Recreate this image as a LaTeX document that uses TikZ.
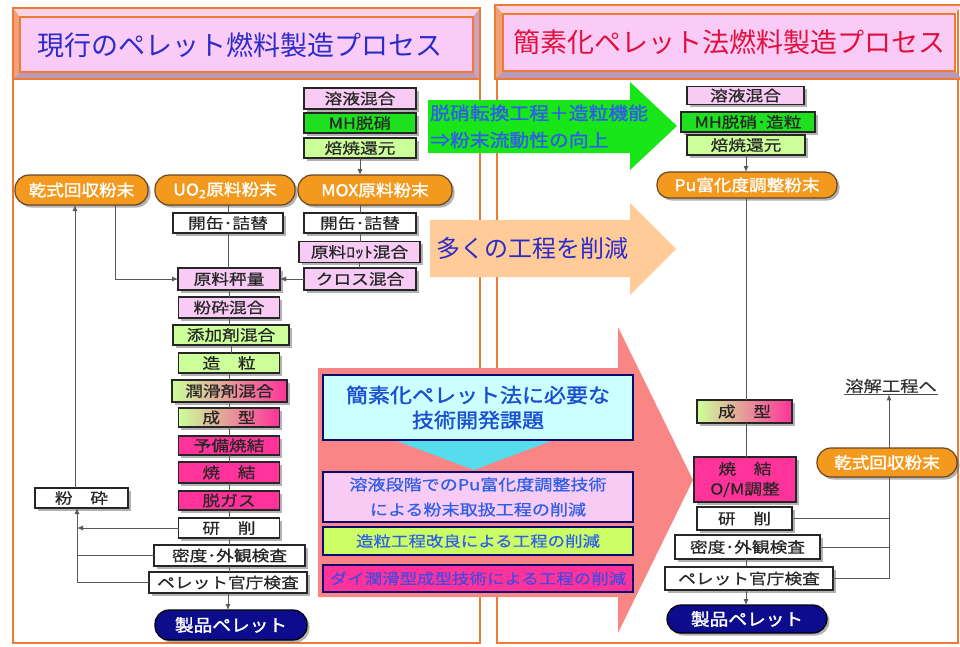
\documentclass[tikz,border=0pt]{standalone}
\usepackage{fontspec}
\setmainfont{Noto Sans CJK JP}
\newfontfamily\jp{Noto Sans CJK JP}[FakeStretch=1.18,FakeBold=0.6]
\newfontfamily\jpb{Noto Sans CJK JP}[FakeBold=1.5,FakeStretch=1.1]
\usetikzlibrary{arrows.meta,shadows}
\definecolor{pinkL}{HTML}{F7CBF4}
\definecolor{greenB}{HTML}{1EE01E}
\definecolor{greenL}{HTML}{CCFF99}
\definecolor{magB}{HTML}{FF3399}
\definecolor{orgP}{HTML}{F39A1E}
\definecolor{navyP}{HTML}{0C0C8C}
\definecolor{arrG}{HTML}{19E619}
\definecolor{peach}{HTML}{FFCC99}
\definecolor{salmon}{HTML}{F98585}
\definecolor{cyanF}{HTML}{CCFFFF}
\definecolor{cyanA}{HTML}{55DDEE}
\definecolor{ygreen}{HTML}{CCFF66}
\definecolor{txtB}{HTML}{2F5FE8}
\definecolor{txtC}{HTML}{1A4FD0}
\definecolor{txtM}{HTML}{4848E0}
\definecolor{titleB}{HTML}{2B2BC8}
\definecolor{titleR}{HTML}{E0103C}
\definecolor{panelO}{HTML}{EE7A35}
\definecolor{frameIn}{HTML}{FBCBF7}
\definecolor{bevT}{HTML}{FAD3E6}
\definecolor{bevL}{HTML}{EFA27A}
\definecolor{bevB}{HTML}{B99AB9}
\definecolor{bevR}{HTML}{C9A2C0}
\tikzset{
  shad/.style={drop shadow={shadow xshift=2.5pt,shadow yshift=-2.5pt,fill=black!60,opacity=.5}},
  box/.style={draw=black!85,line width=1.1pt,inner sep=0pt,outer sep=0pt,text=black!85,
    font=\jp\fontsize{15}{15}\selectfont,shad},
  powder/.style={draw=brown!55!black,line width=1.2pt,fill=orgP,rounded corners=14pt,
    inner sep=0pt,outer sep=0pt,text=white,font=\jpb\fontsize{16}{16}\selectfont,shad},
  prod/.style={draw=black,line width=1.2pt,fill=navyP,rounded corners=14pt,
    inner sep=0pt,outer sep=0pt,text=white,font=\jpb\fontsize{17}{17}\selectfont,shad},
  grad/.style={left color=greenL,right color=magB},
  conn/.style={draw=black!65,line width=0.9pt},
  arr/.style={conn,-{Latex[length=6pt,width=5pt]}},
  task/.style={draw=navyP!80!black,line width=1.1pt,inner sep=0pt,outer sep=0pt,text=txtB,
    minimum width=310pt}
}
\begin{document}
\begin{tikzpicture}[x=1pt,y=-1pt]
\useasboundingbox (0,0) rectangle (960,646);
\fill[white] (0,0) rectangle (960,646);
% panels
\draw[panelO,line width=1.8pt] (13,8) rectangle (480,643);
\draw[panelO,line width=1.8pt] (497,8) rectangle (958,643);
% big arrows
\fill[arrG] (428,100) -- (630,100) -- (630,82) -- (677,126) -- (630,170) -- (630,153) -- (428,153) -- cycle;
\fill[peach] (430,220) -- (630,220) -- (630,203) -- (676,249) -- (630,295) -- (630,277) -- (430,277) -- cycle;
\fill[salmon] (318,368) -- (618,368) -- (618,327) -- (693,480) -- (618,633) -- (618,597) -- (318,597) -- cycle;
\fill[cyanA] (397,441) -- (551,441) -- (474,470) -- cycle;
% title boxes
\fill[bevT] (13,8) -- (480,8) -- (473,17) -- (20,17) -- cycle;
\fill[bevL] (13,8) -- (20,17) -- (20,72) -- (13,79) -- cycle;
\fill[bevB] (13,79) -- (20,72) -- (473,72) -- (480,79) -- cycle;
\fill[bevR] (480,8) -- (480,79) -- (473,72) -- (473,17) -- cycle;
\draw[panelO,line width=1.8pt] (13,8) rectangle (480,79);
\draw[panelO,line width=1.5pt,fill=frameIn] (20,17) rectangle (473,72);
\node[font=\fontsize{27}{27}\selectfont,text=titleB] (tl) at (240,45) {現行のペレット燃料製造プロセス};
\fill[bevT] (495,5) -- (962,5) -- (955,14) -- (503,14) -- cycle;
\fill[bevL] (495,5) -- (503,14) -- (503,71) -- (495,79) -- cycle;
\fill[bevB] (495,79) -- (503,71) -- (955,71) -- (962,79) -- cycle;
\draw[panelO,line width=1.8pt] (495,5) rectangle (962,79);
\draw[panelO,line width=1.5pt,fill=frameIn] (503,14) rectangle (955,71);
\node[font=\fontsize{27}{27}\selectfont,text=titleR] (tr) at (729,42) {簡素化ペレット法燃料製造プロセス};
% arrow texts
\node[anchor=west,align=left,font=\jpb\fontsize{18}{27}\selectfont,text=txtB,inner sep=0pt] (gtxt) at (430,126.5) {脱硝転換工程＋造粒機能\\⇒粉末流動性の向上};
\node[anchor=west,font=\fontsize{24}{24}\selectfont,text=titleB,inner sep=0pt] (ptxt) at (436,248) {多くの工程を削減};
% task boxes
\node[task,fill=cyanF,minimum height=65pt,align=center,font=\jpb\fontsize{20}{25}\selectfont,text=txtC] (t0) at (478,407.5) {簡素化ペレット法に必要な\\技術開発課題};
\node[task,fill=pinkL,minimum height=50pt,align=center,font=\jp\fontsize{15.3}{25}\selectfont] (t1) at (478,497) {溶液段階でのPu富化度調整技術\\による粉末取扱工程の削減};
\node[task,fill=ygreen,minimum height=28pt,font=\jp\fontsize{14.8}{15}\selectfont] (t2) at (478,541) {造粒工程改良による工程の削減};
\node[task,fill=magB,minimum height=27pt,font=\jp\fontsize{14.8}{15}\selectfont,text=txtM] (t3) at (478,578.5) {ダイ潤滑型成型技術による工程の削減};
% left nodes
\node[box,fill=pinkL,minimum width=112pt,minimum height=21pt] (L1) at (360,98.5) {溶液混合};
\node[box,fill=greenB,minimum width=112pt,minimum height=20pt] (L2) at (360,123) {MH脱硝};
\node[box,fill=greenL,minimum width=112pt,minimum height=20pt] (L3) at (360,148) {焙焼還元};
\node[powder,minimum width=154pt,minimum height=30pt] (MOX) at (375,190) {MOX原料粉末};
\node[powder,minimum width=140pt,minimum height=30pt] (UO2) at (225,190) {UO\textsubscript{2}原料粉末};
\node[powder,minimum width=133pt,minimum height=30pt] (DRYL) at (81.5,190) {乾式回収粉末};
\node[box,fill=white,minimum width=110pt,minimum height=20pt] (KL) at (228,223) {開缶･詰替};
\node[box,fill=white,minimum width=112pt,minimum height=20pt] (KR) at (360,223) {開缶･詰替};
\node[box,fill=pinkL,minimum width=121pt,minimum height=21pt] (LOT) at (359.5,252) {原料ﾛｯﾄ混合};
\node[box,fill=pinkL,minimum width=112pt,minimum height=22pt] (CROSS) at (360,279) {クロス混合};
\node[box,fill=pinkL,minimum width=102pt,minimum height=22pt] (C1) at (229,279) {原料秤量};
\node[box,fill=pinkL,minimum width=101pt,minimum height=21pt] (C2) at (229,307.5) {粉砕混合};
\node[box,fill=greenL,minimum width=116pt,minimum height=20pt] (C3) at (231,335) {添加剤混合};
\node[box,fill=greenL,minimum width=101pt,minimum height=20pt] (C4) at (229,363) {造　粒};
\node[box,grad,minimum width=115pt,minimum height=22pt] (C5) at (229.5,391) {潤滑剤混合};
\node[box,grad,minimum width=101pt,minimum height=19pt] (C6) at (229,417.5) {成　型};
\node[box,fill=magB,minimum width=101pt,minimum height=19pt] (C7) at (229,445.5) {予備焼結};
\node[box,fill=magB,minimum width=101pt,minimum height=21pt] (C8) at (229,472.5) {焼　結};
\node[box,fill=magB,minimum width=101pt,minimum height=19pt] (C9) at (229,500.5) {脱ガス};
\node[box,fill=white,minimum width=101pt,minimum height=20pt] (C10) at (229,528) {研　削};
\node[box,fill=white,minimum width=151pt,minimum height=21pt] (C11) at (229.5,555.5) {密度･外観検査};
\node[box,fill=white,minimum width=158pt,minimum height=21pt] (C12) at (228,582.5) {ペレット官庁検査};
\node[prod,minimum width=152pt,minimum height=30pt] (PRODL) at (231,625) {製品ペレット};
\node[box,fill=white,minimum width=93pt,minimum height=20pt] (CRUSH) at (81.5,498) {粉　砕};
% left connectors
\coordinate (lx) at (77,0);
\coordinate (ux) at (75,0);
\coordinate (dx) at (115,0);
\draw[arr] (L3.south) -- (L3.south |- MOX.north);
\draw[conn] (KL.north) -- (KL.north |- UO2.south);
\draw[conn] (KL.south) -- (KL.south |- C1.north);
\draw[conn] (KR.north) -- (KR.north |- MOX.south);
\draw[conn] (KR.south) -- (KR.south |- LOT.north);
\draw[conn] (LOT.south) -- (LOT.south |- CROSS.north);
\draw[arr] (CROSS.west) -- (C1.east);
\draw[arr] (dx |- DRYL.south) -- (dx |- C1.west) -- (C1.west);
\foreach \a/\b in {C1/C2,C2/C3,C3/C4,C4/C5,C5/C6,C6/C7,C7/C8,C8/C9,C9/C10,C10/C11,C11/C12}
  \draw[conn] (\a.south) -- (\a.south |- \b.north);
\draw[arr] (C12.south) -- (C12.south |- PRODL.north);
\draw[arr] (ux |- CRUSH.north) -- (ux |- DRYL.south);
\draw[arr] (C12.west) -- (lx |- C12.west) -- (lx |- CRUSH.south);
\draw[conn] (C11.west) -- (lx |- C11.west);
\draw[arr] (C10.west) -- (lx |- C10.west);
% right nodes
\node[box,fill=pinkL,minimum width=117pt,minimum height=18pt] (R1) at (745.5,95.5) {溶液混合};
\node[box,fill=greenB,minimum width=134pt,minimum height=20pt] (R2) at (748,122) {MH脱硝･造粒};
\node[box,fill=greenL,minimum width=118pt,minimum height=20pt] (R3) at (746,145) {焙焼還元};
\node[powder,minimum width=180pt,minimum height=26pt,rounded corners=12pt] (PU) at (747,185) {Pu富化度調整粉末};
\node[box,grad,minimum width=95pt,minimum height=23pt] (R4) at (744.5,411.5) {成　型};
\node[box,fill=magB,minimum width=102pt,minimum height=45pt,align=center,font=\jp\fontsize{15}{20}\selectfont] (R5) at (745,479.5) {焼　結\\O/M調整};
\node[box,fill=white,minimum width=95pt,minimum height=23pt] (R6) at (744.5,518.5) {研　削};
\node[box,fill=white,minimum width=145pt,minimum height=24pt] (R7) at (747.5,547) {密度･外観検査};
\node[box,fill=white,minimum width=168pt,minimum height=23pt] (R8) at (749,578.5) {ペレット官庁検査};
\node[prod,minimum width=160pt,minimum height=28pt] (PRODR) at (747,619) {製品ペレット};
\node[inner sep=1pt,font=\jp\fontsize{15.5}{16}\selectfont,text=black!80] (DISS) at (891,386) {溶解工程へ};
\draw[black!70,line width=0.8pt] (DISS.south west) -- (DISS.south east);
% right connectors
\coordinate (cxr) at (746,0);
\coordinate (rr) at (889,0);
\draw[arr] (cxr |- R3.south) -- (cxr |- PU.north);
\draw[conn] (cxr |- PU.south) -- (cxr |- R4.north);
\draw[conn] (cxr |- R4.south) -- (cxr |- R5.north);
\draw[conn] (cxr |- R7.south) -- (cxr |- R8.north);
\draw[arr] (cxr |- R8.south) -- (cxr |- PRODR.north);
\draw[conn] (R6.east) -- (rr |- R6.east);
\draw[conn] (R7.east) -- (rr |- R7.east);
\draw[arr] (R8.east) -- (rr |- R8.east) -- (rr |- DISS.south);
\node[powder,minimum width=140pt,minimum height=29pt] (DRYR) at (887,462.5) {乾式回収粉末};
\end{tikzpicture}
\end{document}
